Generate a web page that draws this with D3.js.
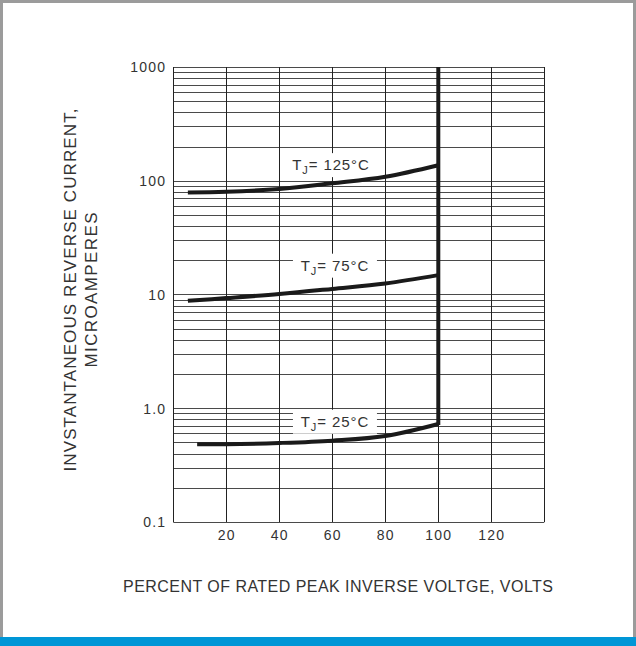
<!DOCTYPE html>
<html>
<head>
<meta charset="utf-8">
<script src="https://cdn.jsdelivr.net/npm/d3@7"></script>
<style>
  body { margin: 0; background: #fff; }
  svg text { font-family: "Liberation Sans", Arial, sans-serif; fill: #333; }
</style>
</head>
<body>
<div class="svgContainer"></div>
<script>
// tick values / labels
const xTicks = [20, 40, 60, 80, 100, 120];
const yTicks = [0.1, 1, 10, 100, 1000];
const yTickLabels = ["0.1", "1.0", "10", "100", "1000"];

// curves (percent of rated PIV -> microamps)
const pct125 = [5.5, 20, 40, 60, 80, 100];
const cur125 = [79, 80, 84.6, 95, 108.5, 137];
const pct75 = [5.5, 20, 40, 60, 80, 100];
const cur75 = [8.8, 9.3, 10.1, 11.2, 12.5, 14.8];
const pct25 = [9, 20, 40, 60, 80, 100];
const cur25 = [0.482, 0.482, 0.495, 0.519, 0.57, 0.727];

// the breakdown knee at 100 %
const kneePct = 100;
const kneeTop = 1000;

// curve labels
const labelNames = ["125", "75", "25"];
const labelPct = [59.5, 61, 61];
const labelCur = [124, 16.2, 0.688];

const W = 636, H = 646;
const plot = { left: 173.3, right: 544.3, top: 67, bottom: 522 };

const xScale = d3.scaleLinear().domain([0, 140]).range([plot.left, plot.right]);
const yScale = d3.scaleLog().domain([0.1, 1000]).range([plot.bottom, plot.top]);

const svg = d3.select(".svgContainer")
  .append("svg")
  .attr("width", W)
  .attr("height", H);

// page frame + blue strip
svg.append("rect")
  .attr("x", 1.5).attr("y", 1.5)
  .attr("width", W - 3).attr("height", H - 3)
  .attr("fill", "#fff")
  .attr("stroke", "#9b9b9b")
  .attr("stroke-width", 3);
svg.append("rect")
  .attr("x", 0).attr("y", 637)
  .attr("width", W).attr("height", H - 637)
  .attr("fill", "#0096d6");

// log grid: every 1..9 multiple of each decade
const gridVals = [];
[0.1, 1, 10, 100].forEach(d => {
  d3.range(1, 10).forEach(k => gridVals.push(+(d * k).toPrecision(3)));
});
gridVals.push(1000);

const grid = svg.append("g").attr("id", "grid");

grid.selectAll("line.h")
  .data(gridVals)
  .enter()
  .append("line")
  .attr("class", "h")
  .attr("x1", plot.left)
  .attr("x2", plot.right)
  .attr("y1", d => Math.round(yScale(d)) + 0.5)
  .attr("y2", d => Math.round(yScale(d)) + 0.5)
  .attr("stroke", "#4a4a4a")
  .attr("stroke-width", 1);

grid.selectAll("line.v")
  .data([0].concat(xTicks, [140]))
  .enter()
  .append("line")
  .attr("class", "v")
  .attr("x1", d => Math.round(xScale(d)) + 0.5)
  .attr("x2", d => Math.round(xScale(d)) + 0.5)
  .attr("y1", plot.top)
  .attr("y2", plot.bottom)
  .attr("stroke", "#222")
  .attr("stroke-width", 1);

// axes (ticks hidden, labels only)
const xAxis = d3.axisBottom(xScale)
  .tickValues(xTicks)
  .tickSize(0)
  .tickPadding(8)
  .tickFormat(d3.format("d"));
const yAxis = d3.axisLeft(yScale)
  .tickValues(yTicks)
  .tickSize(0)
  .tickPadding(7)
  .tickFormat((d, i) => yTickLabels[i]);

const gx = svg.append("g")
  .attr("id", "x-axis")
  .attr("transform", `translate(0, ${plot.bottom})`)
  .call(xAxis);
const gy = svg.append("g")
  .attr("id", "y-axis")
  .attr("transform", `translate(${plot.left}, 0)`)
  .call(yAxis);

[gx, gy].forEach(g => {
  g.select(".domain").remove();
  g.selectAll("text")
    .attr("font-family", "'Liberation Sans', Arial, sans-serif")
    .attr("font-size", 14)
    .attr("letter-spacing", "1.2px")
    .attr("fill", "#333");
});
gy.selectAll("text").attr("dy", "0.35em");

// curves
const line = d3.line()
  .x(d => xScale(d[0]))
  .y(d => yScale(d[1]))
  .curve(d3.curveCatmullRom.alpha(0.5));

const series = [
  d3.zip(pct125, cur125),
  d3.zip(pct75, cur75),
  d3.zip(pct25, cur25)
];

// label boxes go under the curves but over the grid
const labels = svg.append("g").attr("id", "labels");
labelNames.forEach((name, i) => {
  const cx = xScale(labelPct[i]);
  const by = yScale(labelCur[i]);
  labels.append("rect")
    .attr("x", cx - 42)
    .attr("y", by - 17)
    .attr("width", 84)
    .attr("height", 24)
    .attr("fill", "#fff");
  const t = labels.append("text")
    .attr("x", cx)
    .attr("y", by)
    .attr("text-anchor", "middle")
    .attr("font-size", 15)
    .attr("letter-spacing", "0.9px");
  t.append("tspan").text("T");
  t.append("tspan").attr("font-size", 11).attr("dy", 4).text("J");
  t.append("tspan").attr("dy", -4).text(`= ${name}°C`);
});

svg.append("g")
  .attr("id", "curves")
  .selectAll("path")
  .data(series)
  .enter()
  .append("path")
  .attr("d", line)
  .attr("fill", "none")
  .attr("stroke", "#1a1a1a")
  .attr("stroke-width", 4);

svg.append("line")
  .attr("x1", xScale(kneePct))
  .attr("x2", xScale(kneePct))
  .attr("y1", yScale(kneeTop))
  .attr("y2", yScale(cur25[cur25.length - 1]) + 1)
  .attr("stroke", "#1a1a1a")
  .attr("stroke-width", 4);

// axis titles
svg.append("text")
  .attr("x", 338)
  .attr("y", 592)
  .attr("text-anchor", "middle")
  .attr("font-size", 16)
  .attr("textLength", 430)
  .attr("lengthAdjust", "spacing")
  .text("PERCENT OF RATED PEAK INVERSE VOLTGE, VOLTS");

const yTitle = svg.append("g")
  .attr("transform", "translate(0, 290) rotate(-90)");
yTitle.append("text")
  .attr("x", 0)
  .attr("y", 76)
  .attr("text-anchor", "middle")
  .attr("font-size", 17)
  .attr("textLength", 363)
  .attr("lengthAdjust", "spacing")
  .text("INVSTANTANEOUS REVERSE CURRENT,");
yTitle.append("text")
  .attr("x", 0)
  .attr("y", 97)
  .attr("text-anchor", "middle")
  .attr("font-size", 17)
  .attr("textLength", 155)
  .attr("lengthAdjust", "spacing")
  .text("MICROAMPERES");
</script>
</body>
</html>
